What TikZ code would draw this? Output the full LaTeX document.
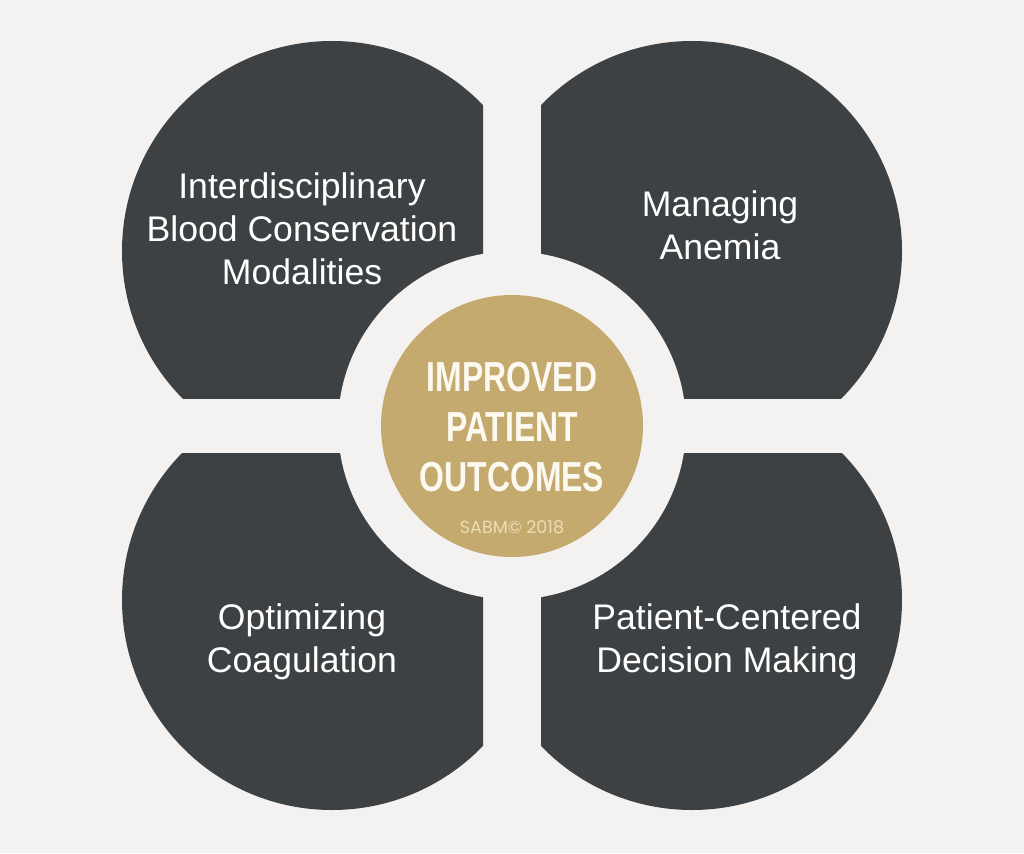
\documentclass[tikz,border=0pt]{standalone}
\usepackage{fontspec}
\setmainfont{Liberation Sans}
\newfontfamily\condfont[FakeStretch=0.76]{Liberation Sans}
\newfontfamily\smallfont{Poppins}
\definecolor{bgc}{RGB}{244,242,240}
\definecolor{darkc}{RGB}{61,65,67}
\definecolor{goldc}{RGB}{196,170,110}
\definecolor{creamc}{RGB}{252,249,240}
\definecolor{lightgold}{RGB}{236,222,180}
\tikzset{
  quad/.style={fill=darkc},
  lbl/.style={text=white, align=center, font=\fontsize{35.6}{43}\selectfont, inner sep=0pt},
  hubtxt/.style={text=creamc, align=center, font=\condfont\bfseries\fontsize{42}{50}\selectfont, inner sep=0pt},
}
\begin{document}
\begin{tikzpicture}[x=1pt,y=-1pt]
\fill[bgc] (0,0) rectangle (1024,853);
\useasboundingbox (0,0) rectangle (1024,853);
\begin{scope}
\clip (0,0) rectangle (483,398);
\fill[quad] (332,251) circle[radius=210pt];
\end{scope}
\begin{scope}
\clip (541,0) rectangle (1024,398);
\fill[quad] (692,251) circle[radius=210pt];
\end{scope}
\begin{scope}
\clip (0,453) rectangle (483,853);
\fill[quad] (332,600) circle[radius=210pt];
\end{scope}
\begin{scope}
\clip (541,453) rectangle (1024,853);
\fill[quad] (692,600) circle[radius=210pt];
\end{scope}
\fill[bgc] (512,425.5) circle[radius=174pt];
\node[circle, fill=goldc, minimum size=262pt, inner sep=0pt] (hub) at (512,426) {};
\node[hubtxt] (hubtext) at (512,427) {IMPROVED\\PATIENT\\OUTCOMES};
\node[text=lightgold, font=\smallfont\fontsize{17.5}{19}\selectfont, inner sep=0pt] (copy) at (512,527) {SABM© 2018};
\node[lbl] (tl) at (302,229) {Interdisciplinary\\Blood Conservation\\Modalities};
\node[lbl] (tr) at (720,225) {Managing\\Anemia};
\node[lbl] (bl) at (302,642) {Optimizing\\Coagulation};
\node[lbl] (br) at (727,642) {Patient-Centered\\Decision Making};
\end{tikzpicture}
\end{document}
